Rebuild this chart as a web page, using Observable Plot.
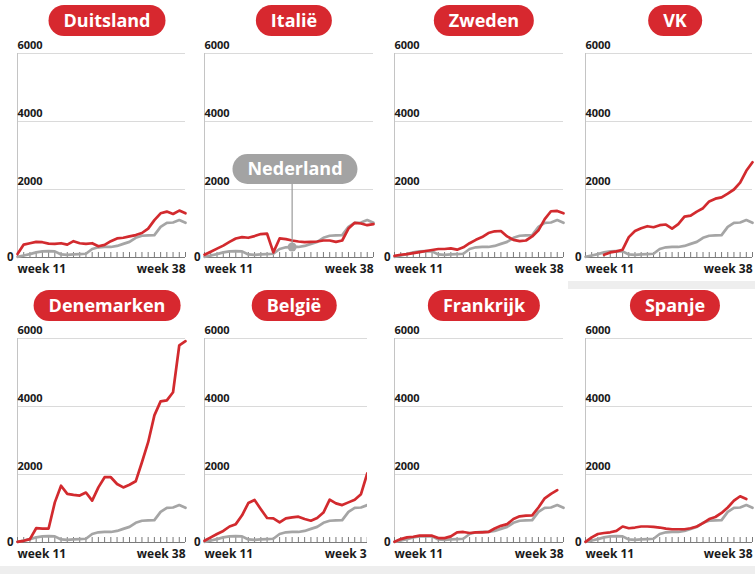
<!DOCTYPE html>
<html>
<head>
<meta charset="utf-8">
<script src="https://cdn.jsdelivr.net/npm/d3@7"></script>
<script src="https://cdn.jsdelivr.net/npm/@observablehq/plot@0.6"></script>
<style>
  html, body { margin: 0; padding: 0; background: #fff; }
  #root { position: relative; width: 755px; height: 574px; overflow: hidden; font-family: "Open Sans", "Noto Sans", sans-serif; }
  .cell { position: absolute; overflow: hidden; }
  .cell svg { display: block; max-width: none !important; }
  .pill { position: absolute; transform: translateX(-50%); background: #d7282f; color: #fff;
          font-family: "Open Sans", sans-serif; font-weight: 700; font-size: 18px;
          height: 31px; line-height: 30px; padding: 0 15px; border-radius: 16px; white-space: nowrap; }
  .pill.grey { background: #a3a3a3; }
  .band { position: absolute; background: #eeeeee; }
</style>
</head>
<body>
<div id="root"></div>
<script>
// ---------- data (values per week, week 11 .. week 38) ----------
const weeks = [11,12,13,14,15,16,17,18,19,20,21,22,23,24,25,26,27,28,29,30,31,32,33,34,35,36,37,38];
const countries = ["Duitsland","Italië","Zweden","VK","Denemarken","België","Frankrijk","Spanje"];
const nederland = [20,60,100,150,180,190,180,90,80,90,100,110,250,300,310,310,340,400,460,580,640,650,660,900,1020,1030,1100,1020];
const duitsland = [100,380,420,460,450,410,400,420,380,480,420,400,420,330,370,480,560,580,620,660,720,850,1100,1300,1350,1280,1380,1300];
const italie = [80,170,260,350,460,560,600,580,630,690,700,150,560,540,500,470,450,460,470,500,500,460,500,850,1020,1000,950,980];
const zweden = [50,80,100,130,160,190,220,250,250,270,230,300,420,520,600,720,770,780,620,520,480,500,620,800,1130,1360,1370,1300];
const vk = [null,null,null,80,150,180,230,600,780,860,920,890,950,970,850,980,1200,1230,1350,1450,1650,1730,1770,1880,2000,2200,2550,2800];
const denemarken = [20,50,100,420,410,410,1180,1670,1430,1400,1380,1470,1230,1620,1920,1920,1720,1620,1700,1800,2360,2950,3740,4150,4180,4420,5800,5920];
const belgie = [50,150,250,340,470,540,800,1160,1250,980,720,710,590,710,740,760,690,640,720,880,1260,1150,1100,1180,1260,1420,2030,null];
const frankrijk = [20,100,150,170,200,200,200,130,130,180,300,310,280,300,300,310,410,490,540,690,770,790,800,1030,1300,1430,1540,null];
const spanje = [20,150,250,280,300,340,470,420,440,470,470,460,440,410,390,390,390,420,470,570,690,750,870,1030,1230,1360,1280,null];
const yTicks = [0, 2000, 4000, 6000];
const weekLabels = ["week 11", "week 38"];
const highlightLabel = "Nederland";
const highlightWeek = 25;

const seriesValues = [duitsland, italie, zweden, vk, denemarken, belgie, frankrijk, spanje];

// ---------- layout ----------
const colLeft = [0, 187, 377, 568];
const colWidth = [190, 191, 191, 189];
const rowTop = [0, 285];
const rowHeight = 285;
const clipWidth = {"België": 180};

const red = "#d22a2e";
const grey = "#a5a5a5";
const font = "'Open Sans', 'Noto Sans', sans-serif";

const toRows = vals => weeks.map((w, i) => ({week: w, value: vals[i]})).filter(d => d.value != null);
const nlRows = toRows(nederland);

const root = document.getElementById("root");

// light grey bands as in the source photo
const b1 = document.createElement("div"); b1.className = "band";
Object.assign(b1.style, {left: "0px", top: "566px", width: "755px", height: "8px"}); root.appendChild(b1);
const b2 = document.createElement("div"); b2.className = "band";
Object.assign(b2.style, {left: "568px", top: "281px", width: "187px", height: "8px"}); root.appendChild(b2);

countries.forEach((name, idx) => {
  const col = idx % 4, row = Math.floor(idx / 4);
  const w = colWidth[col];
  const rows = toRows(seriesValues[idx]);
  const marks = [
    Plot.ruleY(yTicks.filter(d => d > 0), {stroke: "#dadada", strokeWidth: 1}),
    Plot.ruleX([weeks[0]], {stroke: "#c4c4c4", strokeWidth: 1}),
    Plot.tickX(weeks, {x: d => d, stroke: "#7a7a7a", strokeWidth: 1, insetTop: 199}),
    Plot.ruleY([0], {stroke: "#7a7a7a", strokeWidth: 1.2}),
    Plot.line(nlRows, {x: "week", y: "value", stroke: grey, strokeWidth: 2.7, strokeLinejoin: "round"}),
    Plot.line(rows, {x: "week", y: "value", stroke: red, strokeWidth: 2.7, strokeLinejoin: "round"}),
    Plot.text(yTicks.filter(d => d > 0), {y: d => d, text: d => String(d), frameAnchor: "left", textAnchor: "start",
      dy: -8, fontSize: 11, fontWeight: 700, fill: "#1a1a1a", fontFamily: font}),
    Plot.text(yTicks.filter(d => d === 0), {y: d => d, text: d => String(d), frameAnchor: "left", textAnchor: "end",
      dx: -4, fontSize: 11.5, fontWeight: 700, fill: "#1a1a1a", fontFamily: font}),
    Plot.text([weekLabels[0]], {text: d => d, frameAnchor: "bottom-left", textAnchor: "start", dy: 15,
      fontSize: 12, fontWeight: 700, fill: "#1a1a1a", fontFamily: font}),
    Plot.text([weekLabels[1]], {text: d => d, frameAnchor: "bottom-right", textAnchor: "end", dy: 15,
      fontSize: 12, fontWeight: 700, fill: "#1a1a1a", fontFamily: font})
  ];
  if (name === "Italië") {
    const pt = nlRows.filter(d => d.week === highlightWeek);
    marks.push(Plot.ruleX(pt, {x: "week", y1: "value", y2: "value", insetTop: -63, stroke: "#9a9a9a", strokeWidth: 1.2}));
    marks.push(Plot.dot(pt, {x: "week", y: "value", r: 4.5, fill: grey, stroke: "none"}));
  }
  const chart = Plot.plot({
    width: w, height: rowHeight,
    marginLeft: 17, marginRight: 5, marginTop: 53, marginBottom: 28,
    x: {domain: [weeks[0], weeks[weeks.length - 1]], axis: null},
    y: {domain: [yTicks[0], yTicks[yTicks.length - 1]], axis: null},
    style: {background: "transparent", overflow: "visible", maxWidth: "none"},
    marks
  });
  const cell = document.createElement("div");
  cell.className = "cell";
  Object.assign(cell.style, {left: colLeft[col] + "px", top: rowTop[row] + "px",
    width: (clipWidth[name] || w) + "px", height: rowHeight + "px"});
  cell.appendChild(chart);
  root.appendChild(cell);

  const pill = document.createElement("div");
  pill.className = "pill";
  pill.textContent = name;
  Object.assign(pill.style, {left: (colLeft[col] + 107) + "px", top: (rowTop[row] + 5) + "px"});
  root.appendChild(pill);

  if (name === "Italië") {
    const np = document.createElement("div");
    np.className = "pill grey";
    np.textContent = highlightLabel;
    Object.assign(np.style, {left: (colLeft[col] + 108) + "px", top: (rowTop[row] + 154) + "px", height: "30px", lineHeight: "29px"});
    root.appendChild(np);
  }
});
</script>
</body>
</html>
